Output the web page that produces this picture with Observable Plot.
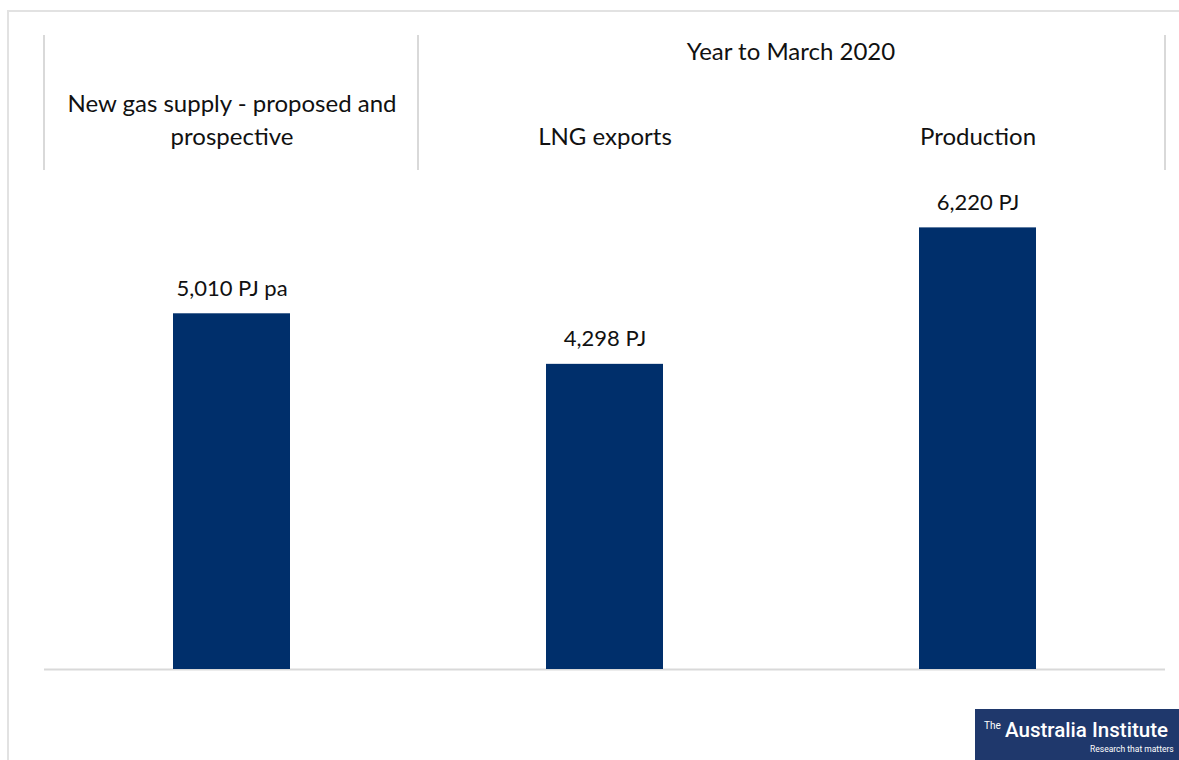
<!DOCTYPE html>
<html><head><meta charset="utf-8">
<script src="https://cdn.jsdelivr.net/npm/d3@7"></script>
<script src="https://cdn.jsdelivr.net/npm/@observablehq/plot@0.6"></script>
<style>
body{margin:0;background:#fff;width:1179px;height:760px;overflow:hidden;position:relative;}
#frame{position:absolute;left:7px;top:10px;right:0;bottom:0;border-top:2px solid #e2e2e2;border-left:2px solid #e2e2e2;}
#chart{position:absolute;left:0;top:0;}
</style></head><body>
<div id="frame"></div><div id="chart"></div>
<script>
const categories = ["New gas supply - proposed and prospective", "LNG exports", "Production"];
const axisLabels = ["New gas supply - proposed and\nprospective", "LNG exports", "Production"];
const values = [5010, 4298, 6220];
const valueLabels = ["5,010 PJ pa", "4,298 PJ", "6,220 PJ"];
const groupLabel = "Year to March 2020";
const groupMembers = ["LNG exports", "Production"];
const logoTitle = "Australia Institute";
const logoPrefix = "The";
const logoTagline = "Research that matters";

const data = categories.map((c, i) => ({category: c, value: values[i], label: valueLabels[i]}));
const font = "Lato, 'Open Sans', sans-serif";

const plot = Plot.plot({
  width: 1179, height: 760,
  marginLeft: 44, marginRight: 14, marginTop: 172, marginBottom: 91,
  style: {fontFamily: font, fontSize: "22px", background: "transparent", color: "#111"},
  x: {domain: categories, paddingInner: 0.687, paddingOuter: 0.3435, label: null},
  y: {domain: [0, 7000], axis: null},
  marks: [
    Plot.axisX({anchor: "top", tickSize: 0, tickPadding: 28, label: null, fontSize: 24, lineHeight: 1.37,
      tickFormat: d => axisLabels[categories.indexOf(d)]}),
    Plot.ruleY([0], {stroke: "#d9d9d9", strokeWidth: 2}),
    Plot.barY(data, {x: "category", y: "value", fill: "#002f6b"}),
    Plot.text(data, {x: "category", y: "value", text: "label", dy: -25, fontSize: 22, fill: "#111"})
  ]
});
document.getElementById("chart").appendChild(plot);

const xs = plot.scale("x");
const half = (xs.step - xs.bandwidth) / 2;
const svg = d3.select(plot);
const seps = [xs.range[0], xs.apply(categories[1]) - half, xs.range[1]];
svg.append("g").selectAll("line").data(seps).join("line")
  .attr("x1", d => d).attr("x2", d => d).attr("y1", 35).attr("y2", 170)
  .attr("stroke", "#d9d9d9").attr("stroke-width", 2);
const gx = (xs.apply(groupMembers[0]) + xs.apply(groupMembers[1])) / 2 + xs.bandwidth / 2;
svg.append("text").attr("x", gx).attr("y", 60).attr("text-anchor", "middle")
  .attr("font-family", font).attr("font-size", 24).attr("fill", "#111").text(groupLabel);

const logo = svg.append("g").attr("text-anchor", "start");
logo.append("rect").attr("x", 975).attr("y", 709).attr("width", 204).attr("height", 51).attr("fill", "#1f386c");
logo.append("text").attr("x", 984).attr("y", 729).attr("text-anchor", "start").attr("font-family", "Roboto, sans-serif").attr("font-size", 10)
  .attr("fill", "#fff").text(logoPrefix);
logo.append("text").attr("x", 1005).attr("y", 737).attr("text-anchor", "start").attr("font-family", "Roboto, sans-serif").attr("font-size", 20)
  .attr("font-weight", 500).attr("fill", "#fff").attr("textLength", 163).attr("lengthAdjust", "spacingAndGlyphs").text(logoTitle);
logo.append("text").attr("x", 1090).attr("y", 752).attr("text-anchor", "start").attr("font-family", "Roboto, sans-serif").attr("font-size", 8.5)
  .attr("fill", "#fff").text(logoTagline);
</script>
</body></html>
